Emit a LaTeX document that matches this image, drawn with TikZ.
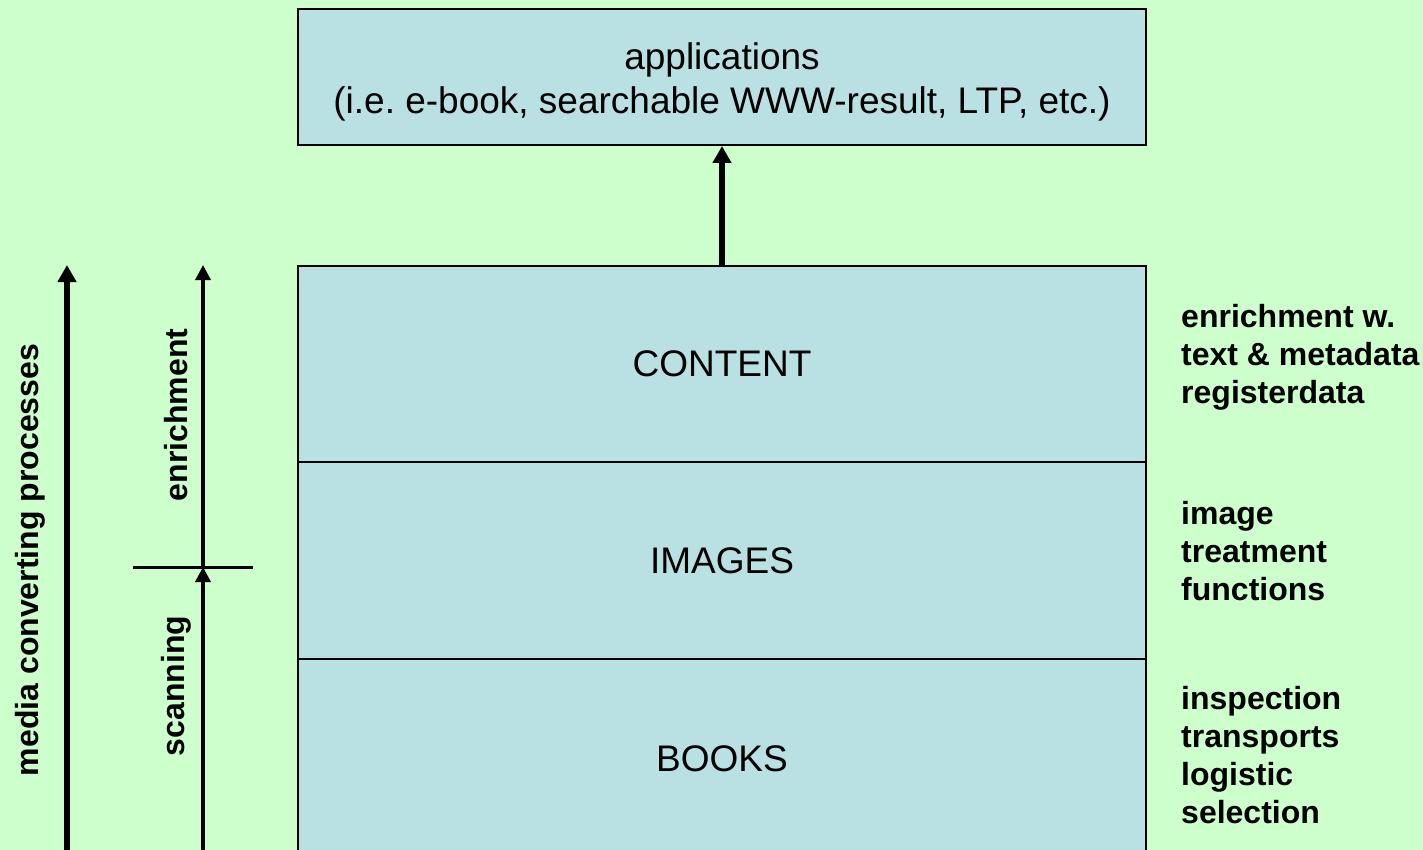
\documentclass[tikz,border=0pt]{standalone}
\usepackage{fontspec}
\setmainfont{Liberation Sans}
\usetikzlibrary{arrows.meta}
\definecolor{bg}{RGB}{204,255,204}
\definecolor{boxc}{RGB}{185,224,226}
\frenchspacing
\begin{document}
\begin{tikzpicture}[x=1pt,y=-1pt,
 layer/.style={draw=black,line width=2pt,fill=boxc,minimum width=848pt,inner sep=0pt,font=\fontsize{37}{44}\selectfont,align=center},
 boxtext/.style={font=\fontsize{37}{44}\selectfont,align=center,inner sep=0pt},
 side/.style={font=\bfseries\fontsize{32}{38}\selectfont,align=left,anchor=base west,inner sep=0pt},
 vlab/.style={font=\bfseries\fontsize{32}{38}\selectfont,rotate=90,inner sep=0pt},
 thickarr/.style={line width=6pt,-{Triangle[length=17pt,width=18pt]}},
 thinarr/.style={line width=3.5pt,-{Triangle[length=15pt,width=15pt]}},
 divline/.style={line width=3pt}]
\fill[bg] (0,0) rectangle (1423,850);
\clip (0,0) rectangle (1423,850);
\node[layer,minimum height=136pt] (app) at (722,77) {};
\node[boxtext] (apptext) at (722,82) {applications\\(i.e. e-book, searchable WWW-result, LTP, etc.)};
\node[layer,minimum height=196pt] (content) at (722,364) {CONTENT};
\node[layer,minimum height=197pt] (images) at (722,560.5) {IMAGES};
\node[layer,minimum height=200pt] (books) at (722,759) {BOOKS};
\draw[thickarr] (content.north) -- (app.south);
% left side
\coordinate (mcpBot) at (67,856);
\coordinate (scanBot) at (203,856);
\coordinate (divL) at (133,567);
\coordinate (divR) at (253,567);
\coordinate (divM) at (203,567);
\draw[thickarr] (mcpBot) -- (mcpBot |- content.north);
\draw[divline] (divL) -- (divR);
\draw[thinarr] (scanBot) -- (divM);
\draw[thinarr] (divM) -- (divM |- content.north);
\node[vlab] (mcp) at (30,560) {media converting processes};
\node[vlab] (enr) at (176,415) {enrichment};
\node[vlab] (scan) at (176,686) {scanning};
% right side
\node[side] (r1) at (1181,403) {enrichment w.\\text \& metadata\\registerdata};
\node[side] (r2) at (1181,600) {image\\treatment\\functions};
\node[side] (r3) at (1181,823) {inspection\\transports\\logistic\\selection};
\end{tikzpicture}
\end{document}
